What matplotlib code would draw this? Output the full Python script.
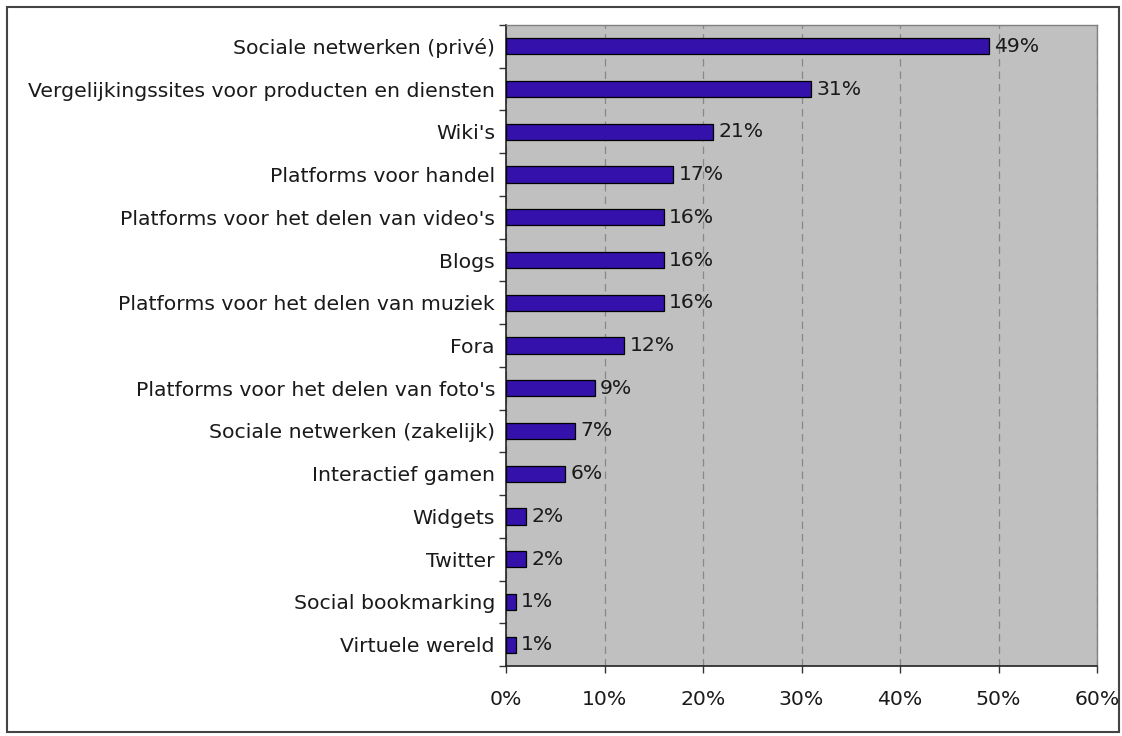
import matplotlib
matplotlib.use("Agg")
import matplotlib.pyplot as plt
from matplotlib.ticker import MultipleLocator, FuncFormatter, FixedLocator

categories = [
    "Sociale netwerken (privé)",
    "Vergelijkingssites voor producten en diensten",
    "Wiki's",
    "Platforms voor handel",
    "Platforms voor het delen van video's",
    "Blogs",
    "Platforms voor het delen van muziek",
    "Fora",
    "Platforms voor het delen van foto's",
    "Sociale netwerken (zakelijk)",
    "Interactief gamen",
    "Widgets",
    "Twitter",
    "Social bookmarking",
    "Virtuele wereld",
]
values = [49, 31, 21, 17, 16, 16, 16, 12, 9, 7, 6, 2, 2, 1, 1]

plt.rcParams['font.family'] = ['DejaVu Sans']
FS = 14.7

fig = plt.figure(figsize=(11.22, 7.36), dpi=100)
W, H = 1122, 736
ax = fig.add_axes([506 / W, 1 - 666 / H, (1097 - 506) / W, (666 - 25) / H])
ax.set_facecolor('#C0C0C0')

n = len(categories)
ypos = list(range(n))
ax.barh(ypos, values, height=0.38, color='#3311AA', edgecolor='black', linewidth=0.9, zorder=3)
ax.set_ylim(n - 0.5, -0.5)
ax.set_xlim(0, 60)

for y, v in zip(ypos, values):
    ax.text(v + 0.55, y, f"{v}%", va='center', ha='left', fontsize=FS, color='#1a1a1a', zorder=4)

ax.set_yticks(ypos)
ax.set_yticklabels(categories, fontsize=FS, color='#1a1a1a')
ax.tick_params(axis='y', length=0, pad=8)
ax.yaxis.set_minor_locator(FixedLocator([i - 0.5 for i in range(n + 1)]))
ax.tick_params(axis='y', which='minor', length=5, width=1, color='#333333')

ax.xaxis.set_major_locator(MultipleLocator(10))
ax.xaxis.set_major_formatter(FuncFormatter(lambda x, p: f"{int(round(x))}%"))
ax.tick_params(axis='x', length=5, width=1, labelsize=FS, pad=12, colors='#1a1a1a', color='#333333')
ax.grid(axis='x', linestyle=(0, (6, 4)), color='#888888', linewidth=0.9, zorder=1)

for s in ['left', 'bottom']:
    ax.spines[s].set_color('#222222')
    ax.spines[s].set_linewidth(1.2)
for s in ['top', 'right']:
    ax.spines[s].set_color('#808080')
    ax.spines[s].set_linewidth(1.0)

# outer frame
fig.patches.append(plt.Rectangle((7 / W, 1 - 732 / H), (1119 - 7) / W, (732 - 7) / H,
                                 transform=fig.transFigure, fill=False,
                                 edgecolor='#444444', linewidth=1.5))

fig.savefig("out.png", dpi=100)
